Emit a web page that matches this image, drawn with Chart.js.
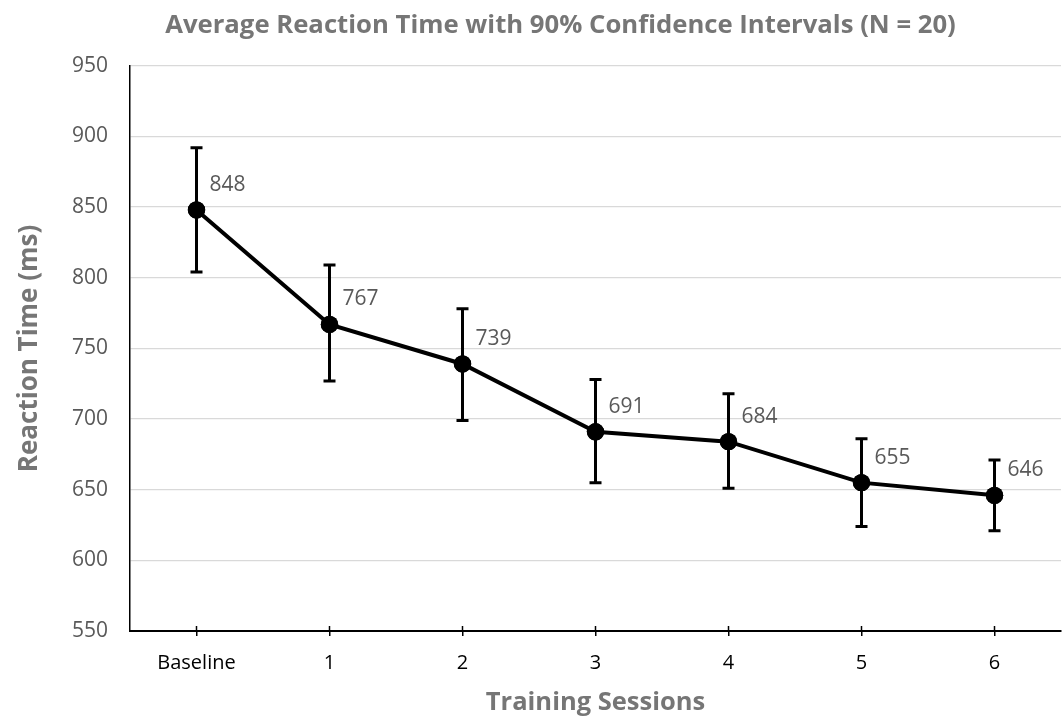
<!DOCTYPE html>
<html>
<head>
<meta charset="utf-8">
<script src="https://cdn.jsdelivr.net/npm/chart.js@4/dist/chart.umd.min.js"></script>
<style>
  html, body { margin: 0; padding: 0; background: #ffffff; }
  #wrap { width: 1063px; height: 724px; }
</style>
</head>
<body>
<div id="wrap"><canvas id="c" width="1063" height="724"></canvas></div>
<script>
const categories = ["Baseline", "1", "2", "3", "4", "5", "6"];
const meanRT = [848, 767, 739, 691, 684, 655, 646];
const upperCI = [892, 809, 778, 728, 718, 686, 671];
const lowerCI = [804, 727, 699, 655, 651, 624, 621];
const yTicks = [550, 600, 650, 700, 750, 800, 850, 900, 950];

const errorBarPlugin = {
  id: 'errorBars',
  afterDatasetsDraw(chart) {
    const ctx = chart.ctx;
    const x = chart.scales.x, y = chart.scales.y;
    ctx.save();
    ctx.strokeStyle = '#000';
    ctx.lineWidth = 3;
    ctx.lineCap = 'butt';
    for (let i = 0; i < categories.length; i++) {
      const px = x.getPixelForValue(i);
      const yt = y.getPixelForValue(upperCI[i]);
      const yb = y.getPixelForValue(lowerCI[i]);
      ctx.beginPath();
      ctx.moveTo(px, yt); ctx.lineTo(px, yb);
      ctx.moveTo(px - 6, yt); ctx.lineTo(px + 6, yt);
      ctx.moveTo(px - 6, yb); ctx.lineTo(px + 6, yb);
      ctx.stroke();
    }
    const meta = chart.getDatasetMeta(0);
    ctx.fillStyle = '#000';
    meta.data.forEach(pt => {
      ctx.beginPath();
      ctx.arc(pt.x, pt.y, 8.7, 0, Math.PI * 2);
      ctx.fill();
    });
    ctx.fillStyle = '#595959';
    ctx.font = '21px "Open Sans", sans-serif';
    ctx.textAlign = 'left';
    ctx.textBaseline = 'middle';
    meta.data.forEach((pt, i) => {
      ctx.fillText(String(meanRT[i]), pt.x + 13, pt.y - 25);
    });
    ctx.lineWidth = 1.5;
    const by = chart.chartArea.bottom;
    for (let i = 0; i < categories.length; i++) {
      const px = x.getPixelForValue(i);
      ctx.beginPath();
      ctx.moveTo(px, by - 5); ctx.lineTo(px, by);
      ctx.stroke();
    }
    ctx.restore();
  }
};

new Chart(document.getElementById('c'), {
  type: 'line',
  data: {
    labels: categories,
    datasets: [{
      data: meanRT,
      borderColor: '#000',
      backgroundColor: '#000',
      borderWidth: 4,
      pointRadius: 8.7,
      pointBackgroundColor: '#000',
      pointBorderWidth: 0,
      tension: 0,
      clip: false
    }]
  },
  options: {
    responsive: false,
    animation: false,
    devicePixelRatio: 1,
    layout: { autoPadding: false, padding: { left: 60, right: 2, top: 0, bottom: 0 } },
    plugins: {
      legend: { display: false },
      tooltip: { enabled: false },
      title: {
        display: true,
        text: 'Average Reaction Time with 90% Confidence Intervals (N = 20)',
        color: '#767676',
        font: { family: '"Open Sans", sans-serif', size: 25.7, weight: 'bold' },
        padding: { top: 10, bottom: 25 }
      }
    },
    scales: {
      x: {
        offset: true,
        grid: {
          display: true,
          drawOnChartArea: false,
          drawTicks: true,
          tickLength: 5,
          color: '#000',
          lineWidth: 1.5,
          offset: false
        },
        border: { display: true, color: '#000', width: 2 },
        ticks: {
          color: '#000',
          font: { family: '"Open Sans", sans-serif', size: 20 },
          padding: 15,
          maxRotation: 0
        },
        title: {
          display: true,
          text: 'Training Sessions',
          color: '#767676',
          font: { family: '"Open Sans", sans-serif', size: 25.5, weight: 'bold' },
          padding: { top: 0, bottom: 6 }
        },
        afterFit(scale) {
          scale.height = 93;
          scale.paddingLeft = 0;
          scale.paddingRight = 0;
        }
      },
      y: {
        min: 550,
        max: 950,
        afterBuildTicks(scale) { scale.ticks = yTicks.map(v => ({ value: v })); },
        grid: { color: '#d9d9d9', lineWidth: 1.3, drawTicks: false },
        border: { display: true, color: '#000', width: 1.5 },
        ticks: {
          color: '#595959',
          font: { family: '"Open Sans", sans-serif', size: 21 },
          padding: 22
        },
        title: {
          display: true,
          text: 'Reaction Time (ms)',
          color: '#767676',
          font: { family: '"Open Sans", sans-serif', size: 26, weight: 'bold' },
          padding: { top: -45.6, bottom: 0 }
        },
        afterFit(scale) { scale.width = 70; }
      }
    }
  },
  plugins: [errorBarPlugin]
});
</script>
</body>
</html>
